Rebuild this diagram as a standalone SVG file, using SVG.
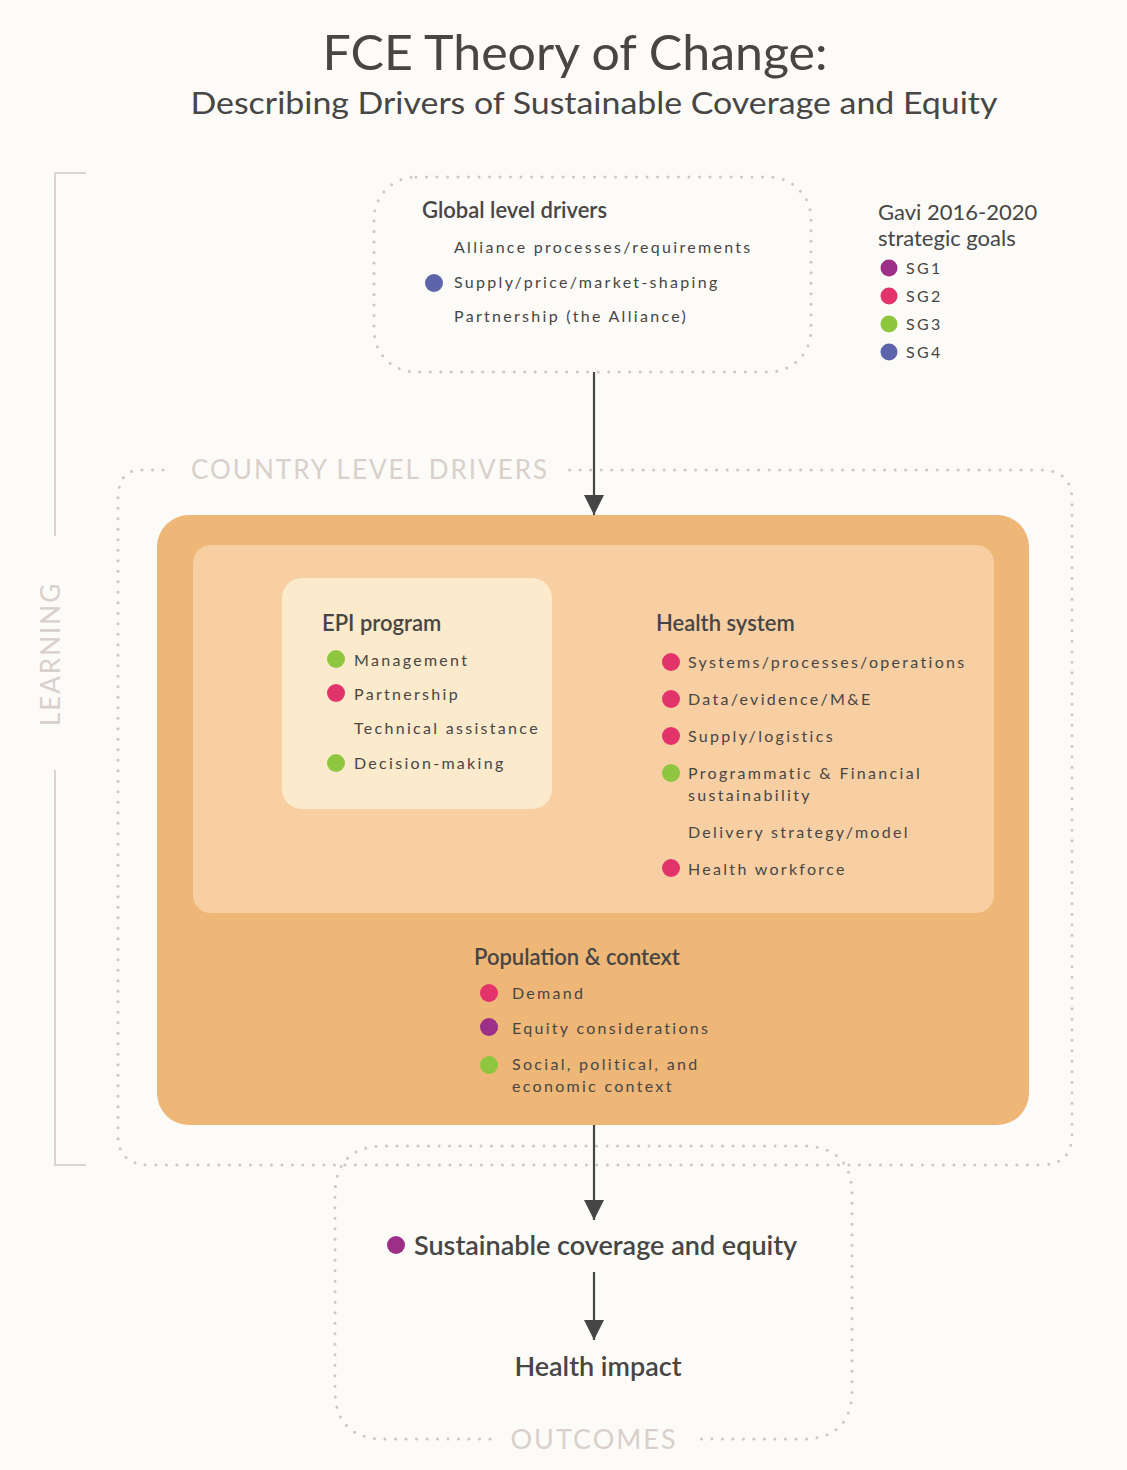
<svg xmlns="http://www.w3.org/2000/svg" width="1127" height="1470" viewBox="0 0 1127 1470">
<defs>
<style>
.t{font-family:Lato,"Open Sans","Liberation Sans",sans-serif;fill:#474645}
.title{font-size:48px}
.sub{font-size:31px}
.h{font-size:22px;font-weight:600}
.it{font-size:16px;letter-spacing:2.3px}
.lg{font-size:22px}
.big{font-size:27px;font-weight:600}
.ghost{font-family:Lato,"Open Sans","Liberation Sans",sans-serif;fill:#d9d0cb;font-size:26px;letter-spacing:2px}
.dots{fill:none;stroke:#cbc7c3;stroke-width:3;stroke-linecap:round;stroke-dasharray:0 10.5}
.br{fill:none;stroke:#cfc8c4;stroke-width:1.5}
.conn{stroke:#454545;stroke-width:2.2;fill:none}
.sg1{fill:#9c2f87}.sg2{fill:#e3336b}.sg3{fill:#8fc640}.sg4{fill:#5d64a9}
</style>
<marker id="ah2" viewBox="0 0 20 20" refX="20" refY="10" markerWidth="20" markerHeight="22" markerUnits="userSpaceOnUse" orient="auto">
<path d="M0,0 L20,10 L0,20 Z" fill="#454545"/>
</marker>
</defs>
<rect x="0" y="0" width="1127" height="1470" fill="#fcfbf8"/>

<g id="title">
<text class="t title" x="575" y="70" text-anchor="middle" textLength="505" lengthAdjust="spacingAndGlyphs">FCE Theory of Change:</text>
<text class="t sub" x="594" y="114" text-anchor="middle" textLength="807" lengthAdjust="spacingAndGlyphs">Describing Drivers of Sustainable Coverage and Equity</text>
</g>

<g id="learning">
<path class="br" d="M86,173 H55 V536"/>
<path class="br" d="M55,770 V1165 H86"/>
<text class="ghost" x="0" y="0" transform="translate(60,654) rotate(-90)" text-anchor="middle">LEARNING</text>
</g>

<g id="country-frame">
<path class="dots" d="M163,470 H140 Q118,470 118,500 V1135 Q118,1165 150,1165 H1040 Q1072,1165 1072,1135 V500 Q1072,470 1040,470 H568"/>
<text class="ghost" x="191" y="479">COUNTRY LEVEL DRIVERS</text>
</g>

<g id="outcomes-frame">
<path class="dots" d="M490,1439 H385 Q335,1439 335,1390 V1195 Q335,1146 385,1146 H802 Q852,1146 852,1195 V1390 Q852,1439 802,1439 H696"/>
<text class="ghost" x="594" y="1449" text-anchor="middle" style="font-size:27px">OUTCOMES</text>
</g>

<g id="global">
<rect class="dots" x="374" y="177" width="437" height="195" rx="42"/>
<text class="t h" x="422" y="218">Global level drivers</text>
<text class="t it" x="454" y="253">Alliance processes/requirements</text>
<circle class="sg4" cx="434" cy="283" r="9"/>
<text class="t it" x="454" y="288">Supply/price/market-shaping</text>
<text class="t it" x="454" y="322">Partnership (the Alliance)</text>
</g>

<g id="legend">
<text class="t lg" x="878" y="220">Gavi 2016-2020</text>
<text class="t lg" x="878" y="246">strategic goals</text>
<circle class="sg1" cx="889" cy="268" r="8.5"/><text class="t it" x="906" y="274">SG1</text>
<circle class="sg2" cx="889" cy="296" r="8.5"/><text class="t it" x="906" y="302">SG2</text>
<circle class="sg3" cx="889" cy="324" r="8.5"/><text class="t it" x="906" y="330">SG3</text>
<circle class="sg4" cx="889" cy="352" r="8.5"/><text class="t it" x="906" y="358">SG4</text>
</g>

<g id="country">
<rect x="157" y="515" width="872" height="610" rx="32" fill="#eeb677"/>
<rect x="193" y="545" width="801" height="368" rx="18" fill="#f7cfa3"/>
</g>

<g id="epi">
<rect x="282" y="578" width="270" height="231" rx="20" fill="#fbeacb"/>
<text class="t h" x="322" y="631">EPI program</text>
<circle class="sg3" cx="336" cy="659" r="9"/><text class="t it" x="354" y="666">Management</text>
<circle class="sg2" cx="336" cy="693" r="9"/><text class="t it" x="354" y="700">Partnership</text>
<text class="t it" x="354" y="734">Technical assistance</text>
<circle class="sg3" cx="336" cy="763" r="9"/><text class="t it" x="354" y="769">Decision-making</text>
</g>

<g id="health-system">
<text class="t h" x="656" y="631">Health system</text>
<circle class="sg2" cx="671" cy="662" r="9"/><text class="t it" x="688" y="668">Systems/processes/operations</text>
<circle class="sg2" cx="671" cy="699" r="9"/><text class="t it" x="688" y="705">Data/evidence/M&amp;E</text>
<circle class="sg2" cx="671" cy="736" r="9"/><text class="t it" x="688" y="742">Supply/logistics</text>
<circle class="sg3" cx="671" cy="773" r="9"/><text class="t it" x="688" y="779">Programmatic &amp; Financial</text>
<text class="t it" x="688" y="801">sustainability</text>
<text class="t it" x="688" y="838">Delivery strategy/model</text>
<circle class="sg2" cx="671" cy="868" r="9"/><text class="t it" x="688" y="875">Health workforce</text>
</g>

<g id="population">
<text class="t h" x="474" y="965">Population &amp; context</text>
<circle class="sg2" cx="489" cy="993" r="9"/><text class="t it" x="512" y="999">Demand</text>
<circle class="sg1" cx="489" cy="1027" r="9"/><text class="t it" x="512" y="1034">Equity considerations</text>
<circle class="sg3" cx="489" cy="1065" r="9"/><text class="t it" x="512" y="1070">Social, political, and</text>
<text class="t it" x="512" y="1092">economic context</text>
</g>

<g id="coverage">
<circle class="sg1" cx="396" cy="1245" r="9"/>
<text class="t big" x="414" y="1255">Sustainable coverage and equity</text>
</g>

<g id="impact">
<text class="t big" x="598" y="1376" text-anchor="middle">Health impact</text>
</g>

<g id="connectors">
<line class="conn" x1="594" y1="372" x2="594" y2="515" marker-end="url(#ah2)"/>
<line class="conn" x1="594" y1="1125" x2="594" y2="1220" marker-end="url(#ah2)"/>
<line class="conn" x1="594" y1="1272" x2="594" y2="1340" marker-end="url(#ah2)"/>
</g>
</svg>
